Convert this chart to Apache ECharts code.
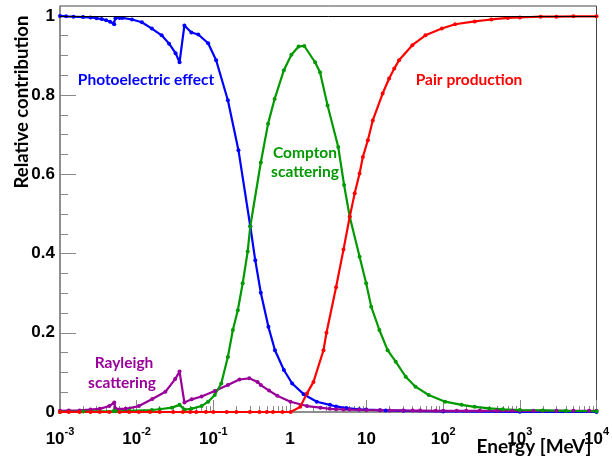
<!DOCTYPE html>
<html>
<head>
<meta charset="utf-8">
<script src="https://cdn.jsdelivr.net/npm/echarts@6/dist/echarts.min.js"></script>
<style>
  html, body { margin: 0; padding: 0; background: #fff; }
  #chart { width: 612px; height: 461px; }
</style>
</head>
<body>
<div id="chart"></div>
<script>
// Relative contribution of each photon interaction process vs. photon energy (MeV)

// Photoelectric effect
const photoE = [0.001, 0.0012, 0.0015, 0.002, 0.0025, 0.003, 0.0035, 0.004, 0.0045, 0.005, 0.0051, 0.0053,
  0.006, 0.0065, 0.0087, 0.0117, 0.0158, 0.0212, 0.0265, 0.0322, 0.0363, 0.042, 0.0518, 0.0637, 0.0857,
  0.109, 0.155, 0.213, 0.304, 0.353, 0.417, 0.524, 0.638, 0.834, 1.07, 1.51, 2.24, 3.33, 4, 5.46, 8, 9.9,
  15, 17.8, 30.5, 100, 1000, 10000];
const photoV = [1.0, 0.999, 0.998, 0.997, 0.996, 0.994, 0.992, 0.989, 0.985, 0.981, 0.979, 0.994,
  0.995, 0.995, 0.991, 0.984, 0.968, 0.951, 0.93, 0.906, 0.883, 0.976, 0.958, 0.953, 0.931,
  0.888, 0.787, 0.661, 0.469, 0.383, 0.301, 0.215, 0.156, 0.106, 0.072, 0.045, 0.026, 0.018, 0.014, 0.010, 0.007, 0.006,
  0.0045, 0.004, 0.003, 0.0015, 0.0005, 0.0002];

// Compton scattering
const comptonE = [0.001, 0.002, 0.005, 0.0051, 0.0053, 0.008, 0.0158, 0.02, 0.0288, 0.0363, 0.042, 0.0518,
  0.0703, 0.0857, 0.1045, 0.127, 0.155, 0.18, 0.209, 0.242, 0.281, 0.304, 0.417, 0.519, 0.631, 0.834,
  1.045, 1.3, 1.54, 2.13, 2.47, 3.1, 4.27, 5.09, 6.03, 8.11, 9.88, 11.5, 14.7, 18.8, 24, 32.4, 43.5,
  64.6, 106, 174, 257, 400, 600, 1000, 2000, 4000, 10000];
const comptonV = [0.0003, 0.001, 0.002, 0.0025, 0.002, 0.003, 0.005, 0.007, 0.011, 0.018, 0.006, 0.008,
  0.015, 0.026, 0.043, 0.072, 0.139, 0.207, 0.257, 0.325, 0.405, 0.469, 0.63, 0.728, 0.79, 0.863,
  0.902, 0.923, 0.924, 0.883, 0.858, 0.774, 0.669, 0.573, 0.493, 0.392, 0.325, 0.266, 0.207, 0.156, 0.127, 0.089, 0.064,
  0.043, 0.026, 0.018, 0.013, 0.009, 0.007, 0.005, 0.004, 0.003, 0.002];

// Rayleigh scattering
const rayleighE = [0.001, 0.0013, 0.0018, 0.0025, 0.0033, 0.0044, 0.0051, 0.0053, 0.0072, 0.0107, 0.016,
  0.0237, 0.0318, 0.0363, 0.042, 0.0522, 0.0703, 0.1045, 0.155, 0.219, 0.295, 0.378, 0.417, 0.534, 0.684,
  1.016, 1.67, 2.5, 3.31, 4, 5, 6, 8, 10, 15, 20, 30, 40, 50, 80, 100, 150, 200, 300, 500, 800, 1000,
  1500, 2000, 3000, 5000, 8000, 10000];
const rayleighV = [0.003, 0.0035, 0.004, 0.006, 0.008, 0.015, 0.024, 0.008, 0.008, 0.015, 0.033,
  0.051, 0.083, 0.102, 0.024, 0.032, 0.039, 0.053, 0.068, 0.082, 0.085, 0.076, 0.068, 0.054, 0.041,
  0.026, 0.015, 0.011, 0.008, 0.007, 0.0065, 0.006, 0.0055, 0.005, 0.0045, 0.004, 0.004, 0.0035, 0.0035, 0.003, 0.003, 0.003, 0.003, 0.003, 0.003, 0.003, 0.003,
  0.003, 0.003, 0.003, 0.003, 0.003, 0.003];

// Pair production
const pairE = [0.001, 0.0013, 0.0018, 0.0025, 0.0033, 0.0044, 0.006, 0.008, 0.0107, 0.015, 0.02, 0.03,
  0.04, 0.05, 0.06, 0.08, 0.1, 0.15, 0.2, 0.3, 0.4, 0.5, 0.6, 0.8, 1.022, 1.365, 1.67, 2.03, 2.74, 3.0,
  4.0, 5.0, 6.03, 7.0, 8.1, 8.95, 10.4, 12.05, 16.2, 19.7, 23, 26.5, 39.5, 58.6, 96, 143, 258, 424, 695,
  1000, 1870, 3000, 5000, 10000];
const pairV = [0, 0, 0, 0, 0, 0, 0, 0, 0, 0, 0, 0,
  0, 0, 0, 0, 0, 0, 0, 0, 0, 0, 0, 0, 0, 0.013, 0.047, 0.076, 0.156, 0.2,
  0.315, 0.41, 0.493, 0.552, 0.602, 0.644, 0.686, 0.736, 0.804, 0.842, 0.867, 0.888, 0.926, 0.951, 0.968, 0.979, 0.986, 0.991, 0.995,
  0.996, 0.998, 0.998, 0.999, 0.999];

// Axis ticks
const yMajor = [0, 0.2, 0.4, 0.6, 0.8, 1];
const yMinor = [0.05, 0.1, 0.15, 0.25, 0.3, 0.35, 0.45, 0.5, 0.55, 0.65, 0.7, 0.75, 0.85, 0.9, 0.95];
const xDecades = [-3, -2, -1, 0, 1, 2, 3, 4];
const xMinor = [];
xDecades.slice(0, -1).forEach(p => { for (let k = 2; k <= 9; k++) xMinor.push(k * Math.pow(10, p)); });

const colors = { photo: '#0000ff', compton: '#009900', rayleigh: '#990099', pair: '#ff0000' };
const pairs = (xs, ys) => xs.map((x, i) => [x, ys[i]]);

const labelFont = 'Lato, "Open Sans", sans-serif';
const numFont = '"Liberation Sans", Arial, sans-serif';

function lineSeries(name, xs, ys, color, extra) {
  return Object.assign({
    name, type: 'line', data: pairs(xs, ys),
    symbol: 'circle', symbolSize: 4,
    lineStyle: { color, width: 2.2 },
    itemStyle: { color },
    xAxisIndex: 0, yAxisIndex: 0,
    animation: false
  }, extra || {});
}

function note(text, x, y, color, size, extra) {
  return Object.assign({
    type: 'text', x, y,
    style: { text, fill: color, font: 'bold ' + size + 'px ' + labelFont, textAlign: 'center', textVerticalAlign: 'middle' }
  }, extra || {});
}

const chart = echarts.init(document.getElementById('chart'), null, { renderer: 'canvas' });
chart.setOption({
  backgroundColor: '#fff',
  animation: false,
  grid: { left: 60, right: 8, top: 6, bottom: 49, show: true, borderColor: '#444', borderWidth: 1, backgroundColor: 'transparent' },
  xAxis: [{
    type: 'log', logBase: 10, min: 0.001, max: 10000, interval: 1,
    axisLine: { show: true, onZero: false, lineStyle: { color: '#888', width: 1.5 } },
    axisTick: { show: true, inside: true, length: 12, lineStyle: { color: '#888' } },
    splitLine: { show: false },
    axisLabel: {
      margin: 14, showMinLabel: true, showMaxLabel: true,
      formatter: v => {
        const p = Math.round(Math.log10(v));
        if (p === 0) return '{b|1}';
        if (p === 1) return '{b|10}';
        return '{b|10}{s|' + p + '}';
      },
      rich: {
        b: { fontFamily: numFont, fontWeight: 'bold', fontSize: 17, color: '#000', lineHeight: 22, verticalAlign: 'bottom' },
        s: { fontFamily: numFont, fontWeight: 'bold', fontSize: 11, color: '#000', lineHeight: 22, verticalAlign: 'top' }
      }
    }
  }, {
    type: 'log', logBase: 10, min: 0.001, max: 10000, position: 'bottom',
    axisLine: { show: false },
    axisLabel: { show: false },
    splitLine: { show: false },
    axisTick: { show: true, inside: true, length: 6, customValues: xMinor, lineStyle: { color: '#888' } }
  }],
  yAxis: [{
    type: 'value', min: 0, max: 1.025, interval: 0.2,
    axisLine: { show: true, lineStyle: { color: '#888', width: 1.5 } },
    axisTick: { show: true, inside: true, length: 16, customValues: yMajor, lineStyle: { color: '#888' } },
    splitLine: { show: false },
    axisLabel: {
      margin: 5, customValues: yMajor,
      fontFamily: numFont, fontWeight: 'bold', fontSize: 17, color: '#000',
      formatter: v => (v === 0 ? '0' : (Math.abs(v - 1) < 1e-9 ? '1' : v.toFixed(1)))
    }
  }, {
    type: 'value', min: 0, max: 1.025, position: 'left',
    axisLine: { show: false },
    axisLabel: { show: false },
    splitLine: { show: false },
    axisTick: { show: true, inside: true, length: 8, customValues: yMinor, lineStyle: { color: '#888' } }
  }],
  series: [
    lineSeries('Photoelectric effect', photoE, photoV, colors.photo, {
      markLine: {
        silent: true, symbol: 'none', animation: false,
        label: { show: false },
        lineStyle: { color: '#000', width: 1, type: 'solid' },
        data: [{ yAxis: 1 }]
      }
    }),
    lineSeries('Rayleigh scattering', rayleighE, rayleighV, colors.rayleigh),
    lineSeries('Compton scattering', comptonE, comptonV, colors.compton),
    lineSeries('Pair production', pairE, pairV, colors.pair)
  ],
  graphic: [
    note('Photoelectric effect', 146, 80, colors.photo, 15.5),
    note('Compton', 305, 153, colors.compton, 15.5),
    note('scattering', 305, 172, colors.compton, 15.5),
    note('Pair production', 469, 80, colors.pair, 15.5),
    note('Rayleigh', 124, 363, colors.rayleigh, 15.5),
    note('scattering', 122, 383, colors.rayleigh, 15.5),
    note('Relative contribution', 22, 102, '#000', 18.5, { rotation: Math.PI / 2 }),
    note('Energy [MeV]', 534, 447, '#000', 19)
  ]
});
</script>
</body>
</html>
